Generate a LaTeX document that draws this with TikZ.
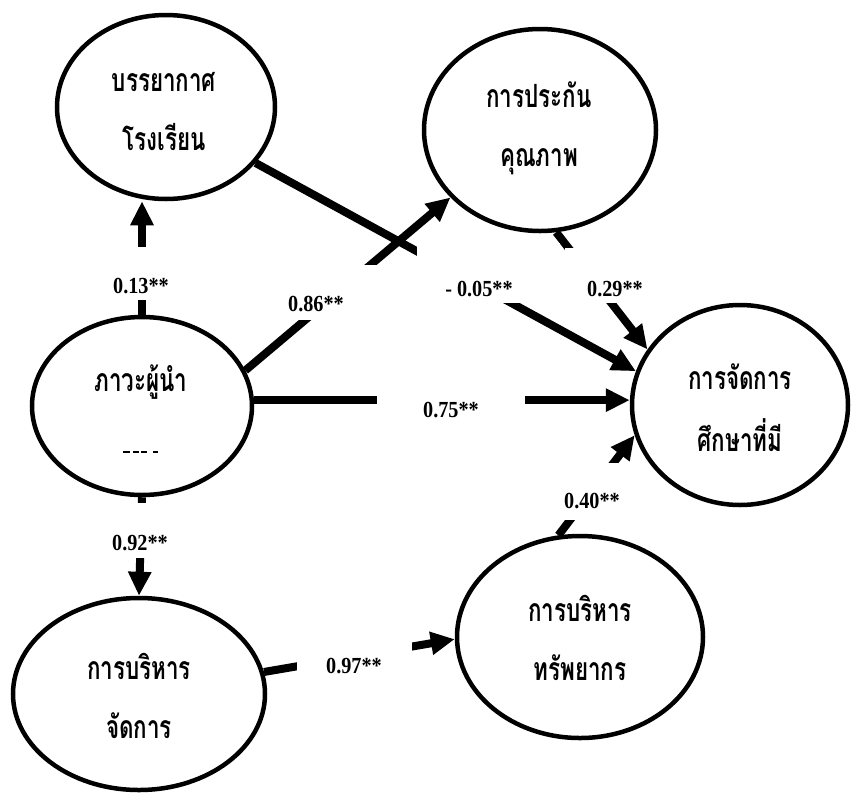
\documentclass[tikz,border=0pt]{standalone}
\usepackage{fontspec}
\setmainfont{Liberation Serif}
\newfontfamily\thaifont[Script=Thai, FakeStretch=0.7]{Loma}
\newfontfamily\coeffont[FakeStretch=0.88]{Liberation Serif}
\usetikzlibrary{arrows.meta,shapes.geometric}
\begin{document}
\begin{tikzpicture}[x=1pt,y=-1pt,
  construct/.style={ellipse, draw, line width=4.5pt, inner sep=0pt},
  ttl/.style={font=\thaifont\bfseries\fontsize{32}{59}\selectfont, align=center, inner sep=0pt},
  link/.style={line width=8pt, -{Triangle[length=24pt,width=22pt]}},
  coef/.style={font=\coeffont\bfseries\fontsize{23}{23}\selectfont, inner sep=0pt},
  gap/.style={fill=white}]
\useasboundingbox (0,0) rectangle (851,793);

% latent constructs
\node[construct, minimum width=218pt, minimum height=184pt] (climate) at (166,107) {};
\node[construct, minimum width=232pt, minimum height=202pt] (quality) at (540,130) {};
\node[construct, minimum width=220pt, minimum height=178pt] (lead) at (142,406) {};
\node[construct, minimum width=216pt, minimum height=200pt] (outcome) at (740,405) {};
\node[construct, minimum width=252pt, minimum height=192pt] (admin) at (139,694) {};
\node[construct, minimum width=246pt, minimum height=202pt] (resource) at (580,637) {};

% construct names
\node[ttl] (climate-t) at (164,112) {บรรยากาศ\\โรงเรียน};
\node[ttl] (quality-t) at (539,128) {การประกัน\\คุณภาพ};
\node[ttl] (lead-t) at (141,382) {ภาวะผู้นำ};
\node[ttl] (outcome-t) at (740,408) {การจัดการ\\[3pt]ศึกษาที่มี};
\node[ttl] (admin-t) at (139,696) {การบริหาร\\จัดการ};
\node[ttl] (resource-t) at (580,638) {การบริหาร\\ทรัพยากร};

% remnants of the cut-off second line of the leadership name
\draw[line width=2pt] (123,452) -- (130,452) (133,452) -- (139,452)
  (141,452) -- (147,452) (153,452) -- (158,452);

% structural paths
\draw[link] (lead.north) -- (lead.north |- climate.south);
\draw[link] (lead.19) -- (quality.217);
\draw[link] (climate.-32) -- (outcome.162);
\draw[link] (quality.-81) -- (outcome.149);
\draw[link] (lead.3) -- (lead.3 -| outcome.west);
\draw[link] (lead.south) -- (admin.north);
\draw[link] (admin.10) -- (resource.181);
\draw[link] (resource.102) -- (outcome.196);

% white boxes behind the coefficients
\fill[gap] (100,247) rectangle (185,300);
\fill[gap] (268,265) rectangle (410,320);
\fill[gap] (417,243) rectangle (560,303);
\fill[gap] (565,248) rectangle (662,303);
\fill[gap] (377,380) rectangle (525,425);
\fill[gap] (540,463) rectangle (645,520);
\fill[gap] (100,503) rectangle (180,558);
\fill[gap] (297,635) rectangle (412,695);

% path coefficients
\begin{scope}
  \clip (90,260) rectangle (200,293);
  \node[coef] (c13) at (141,286) {0.13**};
\end{scope}
\begin{scope}
  \clip (270,280) rectangle (370,312);
  \node[coef] (c86) at (316,304) {0.86**};
\end{scope}
\begin{scope}
  \clip (420,260) rectangle (540,296);
  \node[coef] (c05) at (479,289) {- 0.05**};
\end{scope}
\begin{scope}
  \clip (570,260) rectangle (660,296);
  \node[coef] (c29) at (615,289) {0.29**};
\end{scope}
\begin{scope}
  \clip (550,480) rectangle (640,509);
  \node[coef] (c40) at (592,501) {0.40**};
\end{scope}
\node[coef] (c75) at (451,410) {0.75**};
\node[coef] (c92) at (140,543) {0.92**};
\node[coef] (c97) at (354,666) {0.97**};
\end{tikzpicture}
\end{document}
